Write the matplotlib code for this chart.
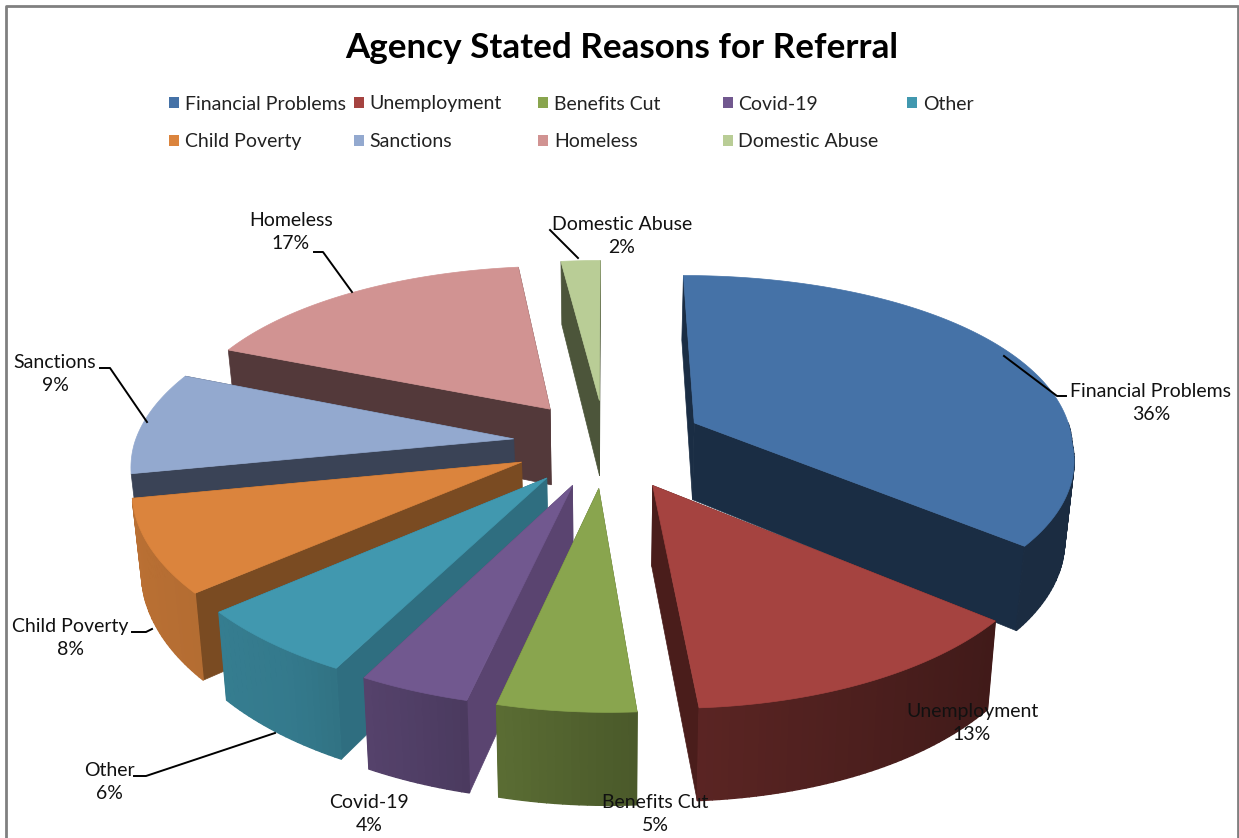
import matplotlib
matplotlib.use('Agg')
import matplotlib.pyplot as plt
import numpy as np
from matplotlib.colors import to_rgb
from matplotlib.patches import Polygon, Rectangle

# data
labels = ['Financial Problems', 'Unemployment', 'Benefits Cut', 'Covid-19', 'Other',
          'Child Poverty', 'Sanctions', 'Homeless', 'Domestic Abuse']
values = [36, 13, 5, 4, 6, 8, 9, 17, 2]

# styles
top_colors = ['#4572A7', '#A54340', '#89A54E', '#71588F', '#4198AF',
              '#DB843D', '#93A9CF', '#D19392', '#B9CD96']
side_colors = ['#1A2D44', '#4A1D1B', '#4E5F2A', '#5A4470', '#2F6E80',
               '#7A4B22', '#3A4356', '#53393A', '#4C553A']
explode = [100, 96, 92, 92, 92, 92, 92, 92, 92]

plt.rcParams['font.family'] = ['Lato', 'DejaVu Sans']

# pie geometry, in pixels
CX, CY = 605, 443
RADIUS = 379
TILT = 0.48
DEPTH = 78


def project(x, y, z=0.0):
    # y points to the back of the pie, z is the drop below the top surface
    u = y / RADIUS
    s = 1 - 0.155 * u
    if u > 0:
        sx = 1 - (0.14 if x < 0 else 0.12) * u
    else:
        sx = s
    # front of the pie leans right, and the lower rim pulls in a little
    lean = 0.03 * max(-y, 0)
    return CX + (x * sx + lean) * (1 - 0.02 * z / DEPTH), CY - TILT * y * s + z * s


def shade(color, f):
    return tuple(c * f for c in to_rgb(color))


def wall_factor(theta):
    return np.interp(np.sin(theta), [-1, -0.6, 0, 0.77, 1], [0.85, 0.8, 0.56, 0.39, 0.39])


fig = plt.figure(figsize=(12.39, 8.38), dpi=100)
ax = fig.add_axes([0, 0, 1, 1])
ax.set_xlim(0, 1239)
ax.set_ylim(838, 0)
ax.axis('off')

# chart frame, open at the bottom like the cropped original
ax.plot([6, 6, 1238, 1238], [838, 6, 6, 838], color='#808080', lw=2, zorder=1)

edges = np.cumsum([0] + values) / sum(values) * 2 * np.pi
mids = (edges[:-1] + edges[1:]) / 2

# paint from the back of the pie to the front
for i in np.argsort(-np.cos(mids)):
    a0, a1 = edges[i], edges[i + 1]
    ox = explode[i] * np.sin(mids[i])
    oy = explode[i] * np.cos(mids[i])
    thetas = np.linspace(a0, a1, max(int((a1 - a0) * 60), 4))
    rim_x = ox + RADIUS * np.sin(thetas)
    rim_y = oy + RADIUS * np.cos(thetas)

    for a in (a0, a1):
        ex, ey = ox + RADIUS * np.sin(a), oy + RADIUS * np.cos(a)
        face = [project(ox, oy), project(ex, ey), project(ex, ey, DEPTH), project(ox, oy, DEPTH)]
        ax.add_patch(Polygon(face, closed=True, fc=side_colors[i], ec=side_colors[i], lw=0.5, zorder=2))

    for j in range(len(thetas) - 1):
        tm = (thetas[j] + thetas[j + 1]) / 2
        # the rim faces away from the viewer here
        if np.cos(tm) > 0 or (np.sin(tm) < 0 and np.cos(tm) > -0.2):
            continue
        quad = [project(rim_x[j], rim_y[j]), project(rim_x[j + 1], rim_y[j + 1]),
                project(rim_x[j + 1], rim_y[j + 1], DEPTH), project(rim_x[j], rim_y[j], DEPTH)]
        col = shade(top_colors[i], wall_factor(tm))
        ax.add_patch(Polygon(quad, closed=True, fc=col, ec=col, lw=1.0, zorder=2))

    top = [project(ox, oy)] + [project(x, y) for x, y in zip(rim_x, rim_y)]
    ax.add_patch(Polygon(top, closed=True, fc=top_colors[i], ec=top_colors[i], lw=0.5, zorder=2))

# title
ax.text(622, 48, 'Agency Stated Reasons for Referral', ha='center', va='center',
        fontsize=25.2, fontweight='bold', color='black', zorder=5)

# legend, five columns filled row by row
for i, name in enumerate(labels):
    col, row = i % 5, i // 5
    lx = 169 + col * 184.5
    ly = 103 + row * 37.5
    ax.add_patch(Rectangle((lx, ly - 5.5), 10, 11, fc=top_colors[i], ec='none', zorder=5))
    ax.text(lx + 16, ly + 1, name, ha='left', va='center', fontsize=14, color='#222222', zorder=5)

# data labels
label_pos = [(1151, 403), (972, 723), (655, 814), (369, 814), (109, 782),
             (70, 638), (55, 374), (291, 232), (622, 236)]
for name, v, (tx, ty) in zip(labels, values, label_pos):
    ax.text(tx, ty, f'{name}\n{v}%', ha='center', va='center', fontsize=14, color='#111111',
            linespacing=1.45, zorder=6)

# leader lines
leaders = [
    [(1004, 356), (1057, 396), (1066, 396)],
    [(275, 733), (146, 776), (134, 776)],
    [(152, 629), (146, 632), (132, 632)],
    [(147, 422), (110, 368), (100, 368)],
    [(352, 292), (323, 252), (314, 252)],
    [(578, 258), (550, 230)],
]
for pts in leaders:
    xs, ys = zip(*pts)
    ax.plot(xs, ys, color='black', lw=1.4, zorder=5)

fig.savefig('out.png', dpi=100, facecolor='white')
